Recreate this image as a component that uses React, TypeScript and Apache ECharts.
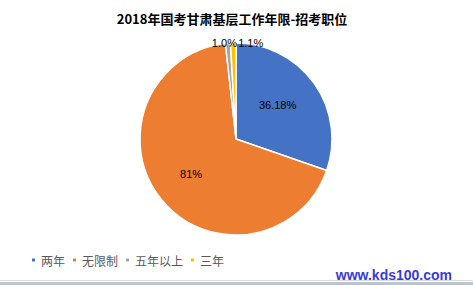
import React, { useEffect, useRef } from "react";
import * as echarts from "echarts";

const categories = ["两年", "无限制", "五年以上", "三年"];
const values = [36.18, 81, 1.0, 1.1];
const valueLabels = ["36.18%", "81%", "1.0%", "1.1%"];
const colors = ["#4472C4", "#ED7D31", "#A5A5A5", "#FFC000"];

const CJK = "'Noto Sans CJK SC', 'Microsoft YaHei', sans-serif";
const LAT = "'Liberation Sans', Arial, sans-serif";

export default function App() {
  const ref = useRef<HTMLDivElement>(null);
  useEffect(() => {
    if (!ref.current) return;
    const chart = echarts.init(ref.current, undefined, { renderer: "svg" });
    const labelCfg: any[] = [
      { position: "inside", offset: [0, -4] },
      { position: "inside", offset: [-5, 3] },
      { position: "outside", offset: [9, 0] },
      { position: "outside", offset: [30, 0] },
    ];
    chart.setOption({
      animation: false,
      backgroundColor: "#ffffff",
      title: {
        text: "2018年国考甘肃基层工作年限-招考职位",
        left: 227,
        top: 7,
        textAlign: "center",
        textStyle: { fontFamily: CJK, fontSize: 13, fontWeight: "bold", color: "#000000" },
      },
      legend: {
        left: 30,
        top: 254,
        padding: 0,
        itemWidth: 5,
        itemHeight: 5,
        itemGap: 6,
        icon: "rect",
        textStyle: { fontFamily: CJK, fontSize: 12, color: "#595959" },
        data: categories,
      },
      color: colors,
      series: [
        {
          type: "pie",
          center: [236, 139],
          radius: 96,
          startAngle: 90,
          clockwise: true,
          avoidLabelOverlap: false,
          itemStyle: { borderColor: "#ffffff", borderWidth: 1.5 },
          labelLine: { show: false, length: 0, length2: 0 },
          labelLayout: { hideOverlap: false },
          label: {
            fontFamily: LAT,
            fontSize: 11,
            color: "#000000",
          },
          emphasis: { disabled: true },
          data: categories.map((name, i) => ({
            name,
            value: values[i],
            label: {
              ...labelCfg[i],
              formatter: valueLabels[i],
              distanceToLabelLine: 0,
            },
          })),
        },
      ],
      graphic: [
        {
          type: "text",
          right: 21,
          top: 268,
          style: {
            text: "www.kds100.com",
            font: "bold 14px 'Liberation Sans', Arial, sans-serif",
            fill: "#3a3ad6",
          },
        },
        {
          type: "rect",
          left: 0,
          top: 280,
          shape: { width: 473, height: 1 },
          style: { fill: "#d9d9d9" },
        },
        {
          type: "rect",
          left: 0,
          top: 282,
          shape: { width: 473, height: 3 },
          style: { fill: "#b8c6d3" },
        },
      ],
    });
    return () => chart.dispose();
  }, []);
  return (
    <div
      ref={ref}
      style={{ position: "fixed", left: 0, top: 0, width: 473, height: 285, background: "#fff" }}
    />
  );
}
